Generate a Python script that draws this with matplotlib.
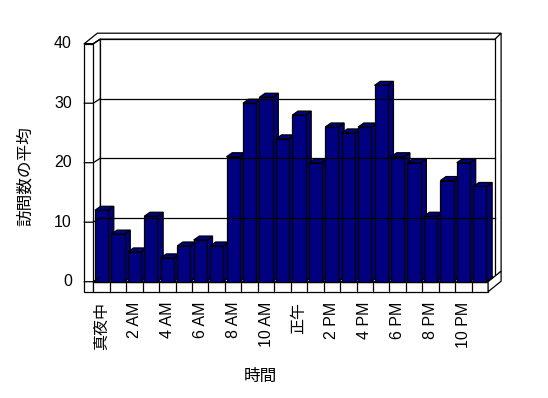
import matplotlib.pyplot as plt
from matplotlib.patches import Polygon

# data
hours = ["真夜中", "2 AM", "4 AM", "6 AM", "8 AM", "10 AM",
         "正午", "2 PM", "4 PM", "6 PM", "8 PM", "10 PM"]
visits = [12, 8, 5, 11, 4, 6, 7, 6, 21, 30, 31, 24,
          28, 20, 26, 25, 26, 33, 21, 20, 11, 17, 20, 16]
yticks = [0, 10, 20, 30, 40]

plt.rcParams['font.family'] = ['Liberation Sans', 'Noto Sans CJK JP']

W, H = 548, 398
PX_CAT = 16.45   # pixels per category
PX_VAL = 5.95    # pixels per value unit
X0, Y0 = 93.3, 281.7  # pixel of category 0 / value 0 (front plane)


def off(px, py):
    return px / PX_CAT, py / PX_VAL


# oblique offsets
d1x, d1y = off(7, 4.5)      # front -> back wall plane
d2x, d2y = off(6, 6)        # back wall thickness
bx, by = off(5.7, 4)        # bar depth
wall_w, _ = off(9, 0)       # left wall thickness
_, floor_h = off(0, 10)     # floor thickness

n = len(visits)
top = yticks[-1]

fig = plt.figure(figsize=(W / 100, H / 100), dpi=100)
ax = fig.add_axes([0, 0, 1, 1])
ax.set_xlim(-X0 / PX_CAT, (W - X0) / PX_CAT)
ax.set_ylim((Y0 - H) / PX_VAL, Y0 / PX_VAL)
ax.axis('off')

lw = 0.9


def face(pts, fc='white'):
    ax.add_patch(Polygon(pts, closed=True, facecolor=fc, edgecolor='black',
                         linewidth=lw, joinstyle='miter'))


# top of both walls as one face
face([(-wall_w, top), (0, top), (d1x, top + d1y), (n + d1x, top + d1y),
      (n + d1x + d2x, top + d1y + d2y),
      (-wall_w + d1x + d2x, top + d1y + d2y)])
# back wall: right side, front plane
face([(n + d1x, d1y), (n + d1x, top + d1y),
      (n + d1x + d2x, top + d1y + d2y), (n + d1x + d2x, d1y + d2y)])
face([(d1x, d1y), (n + d1x, d1y), (n + d1x, top + d1y), (d1x, top + d1y)])
for v in yticks[1:-1]:
    ax.plot([d1x, n + d1x], [v + d1y, v + d1y], color='black', lw=lw)

# left wall: inner side, front
face([(0, 0), (0, top), (d1x, top + d1y), (d1x, d1y)])
face([(-wall_w, -floor_h), (0, -floor_h), (0, top), (-wall_w, top)])
for v in yticks:
    ax.plot([-wall_w, 0, d1x], [v, v, v + d1y], color='black', lw=lw)
    ax.text(-wall_w - 0.75, v, str(v), ha='right', va='center', fontsize=11.5)

# floor: top, front, right side
face([(0, 0), (n, 0), (n + d1x, d1y), (d1x, d1y)])
face([(0, -floor_h), (n, -floor_h), (n, 0), (0, 0)])
face([(n, -floor_h), (n, 0), (n + d1x + d2x, d1y + d2y),
      (n + d1x + d2x, -floor_h + d1y + d2y)])
for i in range(1, n):
    ax.plot([i, i], [-floor_h, 0], color='black', lw=lw)

# bars, left to right so each front covers the previous side
navy = '#000080'
for i, v in enumerate(visits):
    a, b = i + 0.1, i + 0.9
    face([(b, 0), (b, v), (b + bx, v + by), (b + bx, by)], navy)
    face([(a, v), (b, v), (b + bx, v + by), (a + bx, v + by)], navy)
    face([(a, 0), (b, 0), (b, v), (a, v)], navy)

# category labels every two hours
for k, lab in enumerate(hours):
    ax.text(2 * k + 0.5, -20 / PX_VAL, lab, rotation=90, ha='center',
            va='top', fontsize=11.5)

fig.text(260 / W, 1 - 376.7 / H, "時間", ha='center', va='center',
         fontsize=12)
fig.text(25 / W, 1 - 176.5 / H, "訪問数の平均", rotation=90, ha='center',
         va='center', fontsize=12)

fig.savefig("out.png", dpi=100)
